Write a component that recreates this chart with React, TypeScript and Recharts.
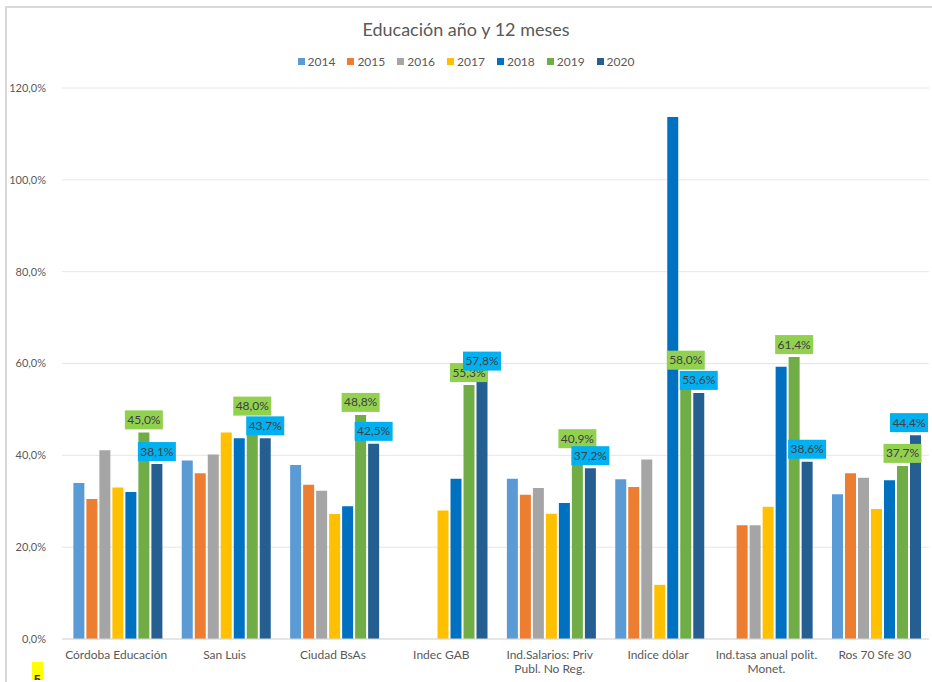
import React from "react";
import {
  BarChart,
  Bar,
  CartesianGrid,
  XAxis,
  YAxis,
  LabelList,
} from "recharts";

const categories = [
  "Córdoba Educación",
  "San Luis",
  "Ciudad BsAs",
  "Indec GAB",
  "Ind.Salarios: Priv\nPubl. No Reg.",
  "Indice dólar",
  "Ind.tasa anual polit.\nMonet.",
  "Ros 70 Sfe 30",
];

const years = ["2014", "2015", "2016", "2017", "2018", "2019", "2020"];

const v2014 = [34.0, 38.9, 37.9, null, 34.9, 34.8, null, 31.5];
const v2015 = [30.5, 36.1, 33.6, null, 31.4, 33.1, 24.8, 36.1];
const v2016 = [41.1, 40.2, 32.3, null, 32.9, 39.1, 24.8, 35.1];
const v2017 = [33.0, 45.0, 27.2, 28.0, 27.3, 11.8, 28.8, 28.3];
const v2018 = [32.0, 43.7, 28.9, 34.9, 29.6, 113.7, 59.3, 34.6];
const v2019 = [45.0, 48.0, 48.8, 55.3, 40.9, 58.0, 61.4, 37.7];
const v2020 = [38.1, 43.7, 42.5, 57.8, 37.2, 53.6, 38.6, 44.4];

const yTicks = [0, 20, 40, 60, 80, 100, 120];

const seriesValues = [v2014, v2015, v2016, v2017, v2018, v2019, v2020];
const colors = ["#5B9BD5", "#ED7D31", "#A5A5A5", "#FFC000", "#0070C0", "#70AD47", "#255E91"];
// only the last two years carry value tags
const labelFills: Record<string, string> = { "2019": "#92D050", "2020": "#00B0F0" };

const data = categories.map((name, i) => {
  const row: Record<string, string | number | null> = { name };
  years.forEach((y, k) => {
    row[y] = seriesValues[k][i];
  });
  return row;
});

const WIDTH = 932;
const HEIGHT = 682;
const FONT = "Lato, 'Noto Sans', sans-serif";
const TEXT = "#595959";

const pct = (v: number) => `${v.toFixed(1).replace(".", ",")}%`;

function CategoryTick(props: any) {
  const { x, y, payload } = props;
  const lines = String(payload.value).split("\n");
  return (
    <text x={x} y={y + 12} textAnchor="middle" fill={TEXT} fontSize={12} fontFamily={FONT}>
      {lines.map((l, i) => (
        <tspan key={i} x={x} dy={i === 0 ? 0 : 14}>
          {l}
        </tspan>
      ))}
    </text>
  );
}

function makeTag(fill: string) {
  return function Tag(props: any) {
    const { x, y, width, value } = props;
    if (value == null) return null;
    const w = 38;
    const h = 19;
    // keep the tag inside the chart's right edge
    const cx = Math.min(Number(x) + Number(width) / 2, WIDTH - 4 - w / 2);
    const top = Number(y) - h - 3;
    return (
      <g>
        <rect x={cx - w / 2} y={top} width={w} height={h} fill={fill} />
        <text
          x={cx}
          y={top + h / 2 + 4}
          textAnchor="middle"
          fill="#404040"
          fontSize={12}
          fontFamily={FONT}
        >
          {pct(Number(value))}
        </text>
      </g>
    );
  };
}

function YearLegend() {
  return (
    <div
      style={{
        position: "absolute",
        top: 54,
        left: 0,
        width: WIDTH,
        display: "flex",
        justifyContent: "center",
        gap: 12,
        fontFamily: FONT,
        fontSize: 12,
        color: TEXT,
      }}
    >
      {years.map((y, k) => (
        <span key={y} style={{ display: "flex", alignItems: "center", gap: 3 }}>
          <span style={{ width: 7, height: 7, background: colors[k], display: "inline-block" }} />
          {y}
        </span>
      ))}
    </div>
  );
}

export default function App() {
  return (
    <div style={{ position: "fixed", left: 0, top: 0, width: WIDTH, height: HEIGHT, background: "#fff", overflow: "hidden" }}>
      <div
        style={{
          position: "absolute",
          left: 5,
          top: 6,
          right: -4,
          bottom: -4,
          borderLeft: "2px solid #d9d9d9",
          borderTop: "2px solid #d9d9d9",
        }}
      />
      <div
        style={{
          position: "absolute",
          top: 18,
          left: 0,
          width: WIDTH,
          textAlign: "center",
          fontFamily: FONT,
          fontSize: 18,
          color: TEXT,
        }}
      >
        Educación año y 12 meses
      </div>
      <YearLegend />
      <BarChart
        width={WIDTH}
        height={HEIGHT}
        data={data}
        margin={{ top: 88, right: 3, bottom: 3, left: 0 }}
        barCategoryGap="10.5%"
        barGap={2}
        style={{ position: "absolute", left: 0, top: 0 }}
      >
        <CartesianGrid vertical={false} stroke="#e6e6e6" />
        <XAxis
          dataKey="name"
          tick={<CategoryTick />}
          tickLine={false}
          axisLine={{ stroke: "#d9d9d9" }}
          interval={0}
          height={40}
        />
        <YAxis
          domain={[0, 120]}
          ticks={yTicks}
          tickFormatter={(v) => pct(Number(v))}
          tick={{ fill: TEXT, fontSize: 11, fontFamily: FONT }}
          tickLine={false}
          axisLine={false}
          width={62}
          tickMargin={10}
        />
        {years.map((y, k) => (
          <Bar key={y} dataKey={y} fill={colors[k]} isAnimationActive={false}>
            {labelFills[y] && <LabelList dataKey={y} content={makeTag(labelFills[y])} />}
          </Bar>
        ))}
      </BarChart>
      <div
        style={{
          position: "absolute",
          left: 32,
          top: 662,
          width: 11,
          height: 18,
          background: "#ffff00",
          overflow: "hidden",
          fontFamily: "Arial, sans-serif",
          fontSize: 12,
          fontWeight: "bold",
          color: "#333",
          lineHeight: "12px",
          paddingTop: 12,
          paddingLeft: 2,
          boxSizing: "border-box",
        }}
      >
        5
      </div>
    </div>
  );
}
